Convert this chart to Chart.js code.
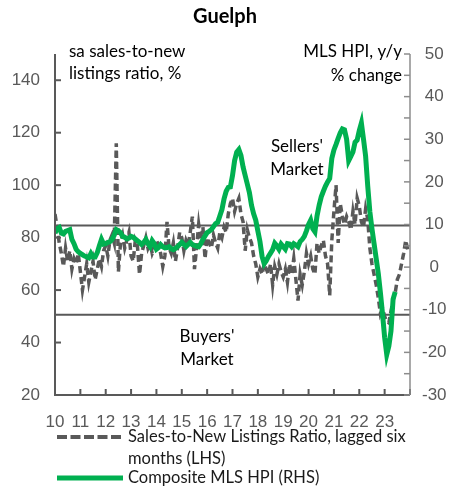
<!DOCTYPE html>
<html>
<head>
<meta charset="utf-8">
<script src="https://cdn.jsdelivr.net/npm/chart.js@4"></script>
<style>
  html, body { margin: 0; padding: 0; background: #fff; }
  #wrap { width: 451px; height: 491px; }
</style>
</head>
<body>
<div id="wrap"><canvas id="myChart" width="451" height="491"></canvas></div>
<script>
// monthly, Jan 2010 onward
var yearLabels = ["10","11","12","13","14","15","16","17","18","19","20","21","22","23"];
var leftTicks = [20, 40, 60, 80, 100, 120, 140];
var rightTicks = [-30, -20, -10, 0, 10, 20, 30, 40, 50];

// sa sales-to-new listings ratio, lagged six months (LHS, %)
var snlr = [
  89, 84, 78, 74, 69, 76, 71, 75, 68, 72, 70, 74,
  67, 60, 65, 70, 63, 67, 71, 64, 68, 72, 69, 75,
  77, 73, 79, 81, 78, 116, 67, 78, 81, 76, 79, 82,
  73, 71, 79, 77, 66, 74, 77, 80, 76, 78, 74, 76,
  79, 77, 74, 69, 73, 86, 76, 74, 78, 71, 76, 82,
  80, 75, 79, 77, 82, 88, 68, 76, 85, 79, 84, 72,
  80, 78, 76, 81, 78, 76, 82, 80, 84, 82, 89, 93,
  95, 90, 93, 95, 89, 86, 75, 83, 80, 78, 73, 70,
  65, 68, 66, 70, 68, 66, 70, 62, 69, 66, 70, 67,
  65, 68, 63, 70, 66, 72, 64, 56, 66, 62, 67, 74,
  70, 73, 68, 66, 78, 74, 77, 79, 73, 70, 58, 79,
  90, 100, 78, 93, 88, 85, 88, 86, 83, 90, 85, 95,
  92, 86, 84, 91, 87, 76, 70, 66, 62, 57, 51, 53,
  50, 48, 47.5, 52, 56, 59, 64, 66, 70, 74, 79, 75
];

// composite MLS HPI, y/y % change (RHS)
var hpi = [
  8, 9, 9.3, 8, 7.8, 8.4, 8.6, 8.8, 6.5, 5.5, 4.2, 3.6,
  3.2, 2.9, 2.6, 2.4, 2.2, 3.2, 2.4, 2.4, 3.4, 5, 6.5, 5.4,
  5.5, 5.8, 6, 6.5, 7.5, 8.8, 8.5, 8.1, 7.2, 7, 6.6, 6.8,
  7.2, 7, 6.6, 6.2, 5.8, 5.3, 5.8, 6.5, 5.5, 4.8, 6.2, 5.5,
  4.2, 4.6, 5.3, 4.8, 4.5, 4.6, 4.8, 4.3, 4.1, 4.4, 4.8, 5.3,
  5.8, 5.3, 4.8, 5.3, 5.8, 5.3, 5.1, 4.9, 4.8, 5.5, 6.5, 7.3,
  8.1, 8.4, 8.8, 9.5, 10.2, 10.5, 12, 13.5, 16, 17.8, 18.7, 18.8,
  21.5, 25, 27, 27.6, 26.2, 23.5, 21.5, 19.5, 17.5, 14.5, 12.5, 11,
  8.5, 6, 2.5, 0.8, 1.5, 2.5, 3.3, 4.1, 5.6, 5, 4.2, 5.4,
  4.8, 4.2, 5.5, 5.4, 4.8, 5.5, 5.2, 4.8, 6, 6.5, 7.2, 8.5,
  10, 11, 9, 8.3, 12, 14.5, 16.5, 17.8, 19, 20, 20.8, 25.5,
  27.5, 28.8, 30.2, 31.5, 32.4, 32.2, 30, 25, 26, 27, 29.3, 29.8,
  32, 33.8, 30, 26, 19, 13, 9, 5.5, 2, -1.5, -6, -11,
  -16.5, -20.5, -18.5, -15, -7.5, -5.8
];

var sellersLevel = 84.6;
var buyersLevel = 50.6;

var textFont = "Lato, 'Open Sans', sans-serif";
var numFont = "'Liberation Sans', Arial, sans-serif";
var axisGrey = "#595959";
var green = "#00b050";

function toPoints(arr) {
  return arr.map(function (v, i) { return { x: i, y: v }; });
}

// axis lines, inward ticks, notes, title, legend
var decor = {
  id: "decor",
  afterDraw: function (chart) {
    var ctx = chart.ctx;
    var a = chart.chartArea;
    var xs = chart.scales.x, yl = chart.scales.y, yr = chart.scales.y1;
    ctx.save();

    ctx.strokeStyle = axisGrey;
    ctx.lineWidth = 2;
    ctx.beginPath();
    ctx.moveTo(a.left, a.top); ctx.lineTo(a.left, a.bottom); ctx.lineTo(a.right, a.bottom);
    ctx.stroke();
    leftTicks.forEach(function (v) {
      var y = yl.getPixelForValue(v);
      ctx.beginPath(); ctx.moveTo(a.left, y); ctx.lineTo(a.left + 6, y); ctx.stroke();
    });
    for (var m = 12; m <= 168; m += 12) {
      var x = xs.getPixelForValue(m);
      ctx.beginPath(); ctx.moveTo(x, a.bottom); ctx.lineTo(x, a.bottom - 6); ctx.stroke();
    }

    ctx.strokeStyle = "#8c8c8c";
    ctx.lineWidth = 1.5;
    ctx.beginPath(); ctx.moveTo(a.right, a.top); ctx.lineTo(a.right, a.bottom); ctx.stroke();
    for (var r = -30; r <= 50; r += 5) {
      var yy = yr.getPixelForValue(r);
      ctx.beginPath(); ctx.moveTo(a.right, yy); ctx.lineTo(a.right - 6, yy); ctx.stroke();
    }

    // title
    ctx.fillStyle = "#000";
    ctx.textBaseline = "middle";
    ctx.textAlign = "center";
    ctx.font = "bold 20px " + textFont;
    ctx.fillText("Guelph", 225, 17);

    // notes inside the plot
    ctx.font = "17px " + textFont;
    ctx.textAlign = "left";
    ctx.fillText("sa sales-to-new", 69, 52);
    ctx.fillText("listings ratio, %", 69, 74);
    ctx.textAlign = "right";
    ctx.fillText("MLS HPI, y/y", 402, 52);
    ctx.fillText("% change", 402, 76);
    ctx.textAlign = "center";
    ctx.fillText("Sellers'", 297, 147);
    ctx.fillText("Market", 297, 170);
    ctx.fillText("Buyers'", 207, 337);
    ctx.fillText("Market", 207, 360);

    // legend
    ctx.strokeStyle = axisGrey;
    ctx.lineWidth = 4;
    ctx.setLineDash([10, 3.5]);
    ctx.beginPath(); ctx.moveTo(57, 437); ctx.lineTo(123, 437); ctx.stroke();
    ctx.setLineDash([]);
    ctx.strokeStyle = green;
    ctx.lineWidth = 5;
    ctx.beginPath(); ctx.moveTo(57, 478); ctx.lineTo(123, 478); ctx.stroke();
    ctx.fillStyle = "#1a1a1a";
    ctx.textAlign = "left";
    ctx.font = "16.5px " + textFont;
    ctx.fillText("Sales-to-New Listings Ratio, lagged six", 128, 437);
    ctx.fillText("months (LHS)", 128, 459);
    ctx.fillText("Composite MLS HPI (RHS)", 128, 478);
    ctx.restore();
  }
};

var ctx = document.getElementById("myChart");
new Chart(ctx, {
  type: "line",
  data: {
    datasets: [
      {
        label: "Composite MLS HPI (RHS)",
        data: toPoints(hpi),
        yAxisID: "y1",
        borderColor: green,
        borderWidth: 5,
        pointRadius: 0,
        tension: 0,
        order: 0
      },
      {
        label: "Sales-to-New Listings Ratio, lagged six months (LHS)",
        data: toPoints(snlr),
        yAxisID: "y",
        borderColor: axisGrey,
        borderWidth: 3.5,
        borderDash: [7, 4],
        pointRadius: 0,
        tension: 0,
        order: 1
      },
      {
        label: "sellers",
        data: [{ x: 0, y: sellersLevel }, { x: 168, y: sellersLevel }],
        yAxisID: "y",
        borderColor: axisGrey,
        borderWidth: 2,
        pointRadius: 0,
        order: 2
      },
      {
        label: "buyers",
        data: [{ x: 0, y: buyersLevel }, { x: 168, y: buyersLevel }],
        yAxisID: "y",
        borderColor: axisGrey,
        borderWidth: 2,
        pointRadius: 0,
        order: 2
      }
    ]
  },
  options: {
    responsive: false,
    animation: false,
    layout: { padding: { top: 54, left: 0, right: 0, bottom: 0 } },
    plugins: { legend: { display: false }, title: { display: false }, tooltip: { enabled: false } },
    scales: {
      x: {
        type: "linear",
        min: 0,
        max: 168,
        grid: { display: false, drawTicks: false },
        border: { display: false },
        afterBuildTicks: function (scale) {
          scale.ticks = yearLabels.map(function (l, i) { return { value: i * 12 }; });
        },
        afterFit: function (scale) { scale.height = 96; },
        ticks: {
          autoSkip: false,
          maxRotation: 0,
          padding: 17,
          color: axisGrey,
          font: { family: numFont, size: 17 },
          callback: function (v) { return yearLabels[v / 12]; }
        }
      },
      y: {
        position: "left",
        min: 20,
        max: 150,
        grid: { display: false, drawTicks: false },
        border: { display: false },
        afterBuildTicks: function (scale) {
          scale.ticks = leftTicks.map(function (v) { return { value: v }; });
        },
        afterFit: function (scale) { scale.width = 55; },
        ticks: { padding: 15, color: axisGrey, font: { family: numFont, size: 17 } }
      },
      y1: {
        position: "right",
        min: -30,
        max: 50,
        grid: { display: false, drawTicks: false },
        border: { display: false },
        afterBuildTicks: function (scale) {
          scale.ticks = rightTicks.map(function (v) { return { value: v }; });
        },
        afterFit: function (scale) { scale.width = 41; },
        ticks: { padding: 12, crossAlign: "center", color: axisGrey, font: { family: numFont, size: 17 } }
      }
    }
  },
  plugins: [decor]
});
</script>
</body>
</html>
